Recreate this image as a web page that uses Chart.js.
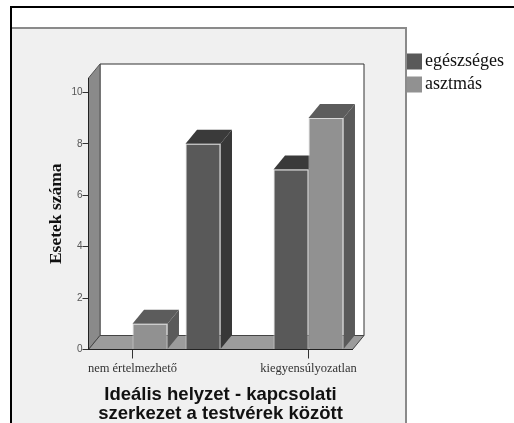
<!DOCTYPE html>
<html>
<head>
<meta charset="utf-8">
<style>
  html, body { margin: 0; padding: 0; background: #fff; }
  canvas { display: block; }
</style>
<script src="https://cdn.jsdelivr.net/npm/chart.js@4/dist/chart.umd.js"></script>
</head>
<body>
<canvas id="myChart" width="514" height="423"></canvas>
<script>
// the middle category has no printed label or tick in the original
const categories = ['nem értelmezhető', '', 'kiegyensúlyozatlan'];
const egeszseges = [0, 8, 7];
const asztmas = [1, 0, 9];
const yTicks = [0, 2, 4, 6, 8, 10];

// 3d offset of the back wall
const depthX = 11.5;
const depthY = 14;

const faces = {
  egészséges: { front: '#595959', top: '#3a3a3a', side: '#383838' },
  asztmás: { front: '#919191', top: '#5c5c5c', side: '#5a5a5a' }
};

function poly(c, pts, fill, stroke) {
  c.beginPath();
  pts.forEach((p, i) => i ? c.lineTo(p[0], p[1]) : c.moveTo(p[0], p[1]));
  c.closePath();
  c.fillStyle = fill;
  c.fill();
  if (stroke) {
    c.strokeStyle = stroke;
    c.lineWidth = 1;
    c.stroke();
  }
}

const box3d = {
  id: 'box3d',
  afterLayout(chart) {
    // legend sits beside the panel, above the top of the plot
    const lg = chart.legend;
    lg.left = 407;
    lg.right = 514;
    lg.top = 47.5;
    lg.bottom = 120;
  },
  beforeDraw(chart) {
    const c = chart.ctx;
    const a = chart.chartArea;
    c.save();
    // grey panel and frame
    c.fillStyle = '#f0f0f0';
    c.fillRect(12, 28, 393, 395);
    c.fillStyle = '#8a8a8a';
    c.fillRect(12, 27, 394, 2);
    c.fillRect(405, 27, 2, 396);
    c.fillStyle = '#000';
    c.fillRect(10, 6, 504, 2);
    c.fillRect(10, 6, 2, 417);

    // back wall, left wall, floor
    const l = a.left, r = a.right, t = a.top, b = a.bottom;
    poly(c, [[l + depthX, t - depthY], [r + depthX, t - depthY], [r + depthX, b - depthY], [l + depthX, b - depthY]], '#fff', '#333');
    poly(c, [[l, t], [l + depthX, t - depthY], [l + depthX, b - depthY], [l, b]], '#8a8a8a', '#555');
    poly(c, [[l, b], [l + depthX, b - depthY], [r + depthX, b - depthY], [r, b]], '#9c9c9c', '#444');
    c.restore();
  },
  beforeDatasetsDraw(chart) {
    // top and side faces go under the fronts of the bars
    const c = chart.ctx;
    c.save();
    chart.data.datasets.forEach((ds, i) => {
      const f = faces[ds.label];
      chart.getDatasetMeta(i).data.forEach((bar, j) => {
        if (!ds.data[j]) return;
        const x0 = bar.x - bar.width / 2;
        const x1 = bar.x + bar.width / 2;
        poly(c, [[x0, bar.y], [x0 + depthX, bar.y - depthY], [x1 + depthX, bar.y - depthY], [x1, bar.y]], f.top);
        poly(c, [[x1, bar.y], [x1 + depthX, bar.y - depthY], [x1 + depthX, bar.base - depthY], [x1, bar.base]], f.side);
      });
    });
    c.restore();
  }
};

new Chart(document.getElementById('myChart'), {
  type: 'bar',
  data: {
    labels: categories,
    datasets: [
      {
        label: 'egészséges',
        data: egeszseges,
        backgroundColor: faces['egészséges'].front,
        borderColor: '#d8d8d8',
        borderWidth: (ctx) => ctx.raw ? 1 : 0,
        categoryPercentage: 0.795,
        barPercentage: 1
      },
      {
        label: 'asztmás',
        data: asztmas,
        backgroundColor: faces['asztmás'].front,
        borderColor: '#d8d8d8',
        borderWidth: (ctx) => ctx.raw ? 1 : 0,
        categoryPercentage: 0.795,
        barPercentage: 1
      }
    ]
  },
  plugins: [box3d],
  options: {
    responsive: false,
    animation: false,
    layout: { padding: { left: 46, right: 161.5, top: 78, bottom: 0 } },
    scales: {
      x: {
        afterFit(s) { s.height = 73.5; },
        grid: {
          offset: false,
          drawOnChartArea: false,
          tickLength: 9,
          tickColor: (ctx) => categories[ctx.index] ? '#333' : 'rgba(0,0,0,0)'
        },
        border: { color: '#222' },
        ticks: {
          autoSkip: false,
          maxRotation: 0,
          padding: 3,
          color: '#333',
          font: { family: '"Liberation Serif"', size: 12.5 }
        },
        title: {
          display: true,
          text: ['Ideális helyzet - kapcsolati', 'szerkezet a testvérek között'],
          color: '#111',
          padding: { top: 0, bottom: 0 },
          font: { family: '"Liberation Sans"', size: 18.5, weight: 'bold', lineHeight: 1.03 }
        }
      },
      y: {
        min: 0,
        max: 10.56,
        afterFit(s) { s.width = 42.5; },
        afterBuildTicks(s) { s.ticks = yTicks.map((v) => ({ value: v })); },
        grid: { drawOnChartArea: false, tickLength: 6, tickColor: '#333' },
        border: { color: '#222' },
        ticks: {
          padding: 0,
          color: '#555',
          font: { family: '"Liberation Sans"', size: 10 }
        },
        title: {
          display: true,
          text: 'Esetek száma',
          color: '#111',
          padding: 0,
          font: { family: '"Liberation Serif"', size: 17.5, weight: 'bold' }
        }
      }
    },
    plugins: {
      title: { display: false },
      tooltip: { enabled: false },
      legend: {
        position: 'chartArea',
        align: 'start',
        labels: {
          boxWidth: 4,
          boxHeight: 4,
          padding: 5,
          color: '#111',
          font: { family: '"Liberation Serif"', size: 18 },
          // thick outline so the swatch is 16px wide but the text stays close
          generateLabels(chart) {
            return Chart.defaults.plugins.legend.labels.generateLabels(chart).map((item) => {
              item.strokeStyle = item.fillStyle;
              item.lineWidth = 12;
              return item;
            });
          }
        }
      }
    }
  }
});
</script>
</body>
</html>
